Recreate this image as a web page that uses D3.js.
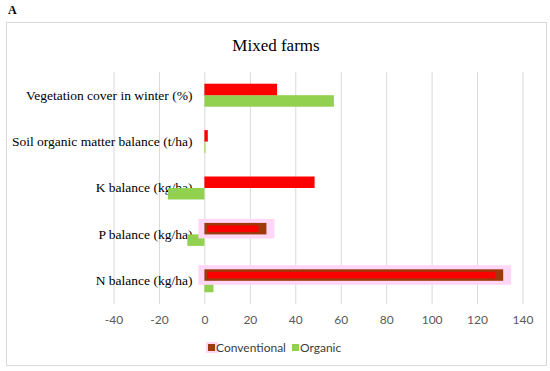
<!DOCTYPE html>
<html>
<head>
<meta charset="utf-8">
<script src="https://cdn.jsdelivr.net/npm/d3@7"></script>
<style>
body { margin: 0; background: #fff; }
.axis-x text { fill: #595959; font-family: Lato, "Liberation Sans", sans-serif; font-size: 12px; }
.axis-x .domain { display: none; }
.axis-x .tick line { stroke: #d9d9d9; }
.axis-y .domain, .axis-y .tick line { display: none; }
.axis-y text { fill: #000; font-family: "Liberation Serif", serif; font-size: 13.5px; }
</style>
</head>
<body>
<div id="plot"></div>
<script>
// categories top to bottom
var categories = ['Vegetation cover in winter (%)', 'Soil organic matter balance (t/ha)', 'K balance (kg/ha)', 'P balance (kg/ha)', 'N balance (kg/ha)'];
var conventional = [32, 1.5, 48.5, 27.3, 131.5];
var organic = [57, 0.3, -16, -7.5, 4];
var xTicks = [-40, -20, 0, 20, 40, 60, 80, 100, 120, 140];
var seriesNames = ['Conventional', 'Organic'];

// the two bars that look retouched in the original picture
var retouched = ['P balance (kg/ha)', 'N balance (kg/ha)'];

var W = 550, H = 371;
var svg = d3.select('#plot').append('svg').attr('width', W).attr('height', H);

// frame
svg.append('rect').attr('x', 6.5).attr('y', 22.5).attr('width', 540).attr('height', 343)
    .attr('fill', '#fff').attr('stroke', '#d9d9d9');

svg.append('text').attr('x', 8).attr('y', 14).text('A')
    .style('font-family', '"Liberation Serif", serif').style('font-weight', 'bold').style('font-size', '12px');

svg.append('text').attr('x', 276).attr('y', 51).attr('text-anchor', 'middle').text('Mixed farms')
    .style('font-family', '"Liberation Serif", serif').style('font-size', '17px');

var plotTop = 72, plotBottom = 304;
var x = d3.scaleLinear().domain([-40, 140]).range([113.5, 522.5]);
var y = d3.scaleBand().domain(categories).range([plotTop, plotBottom]);
var barH = 11.5;

// grid + tick labels (plain hyphen for negatives, like the original)
svg.append('g').attr('class', 'axis axis-x')
    .attr('transform', 'translate(0,' + plotBottom + ')')
    .call(d3.axisBottom(x).tickValues(xTicks).tickFormat(function(d) { return String(d); })
        .tickSizeInner(-(plotBottom - plotTop)).tickSizeOuter(0).tickPadding(11));
svg.selectAll('.axis-x .tick line').attr('y2', 0).attr('y1', -(plotBottom - plotTop));

// category labels, right aligned left of the plot
svg.append('g').attr('class', 'axis axis-y')
    .attr('transform', 'translate(' + (x(0) - 12) + ',0)')
    .call(d3.axisLeft(y).tickSize(0).tickPadding(0));

var rows = categories.map(function(c, i) { return {cat: c, conv: conventional[i], org: organic[i]}; });

var bars = svg.append('g').attr('class', 'bars');

// organic bars (lower half of each band)
bars.selectAll('.org').data(rows).enter().append('rect')
    .attr('class', 'org')
    .attr('x', function(d) { return x(Math.min(0, d.org)); })
    .attr('y', function(d) { return y(d.cat) + y.bandwidth() / 2; })
    .attr('width', function(d) { return Math.max(1, Math.abs(x(d.org) - x(0))); })
    .attr('height', barH)
    .attr('fill', '#92d050');

// conventional bars (upper half)
rows.forEach(function(d) {
    var x0 = x(Math.min(0, d.conv)), w = Math.abs(x(d.conv) - x(0));
    var y0 = y(d.cat) + y.bandwidth() / 2 - barH;
    if (retouched.indexOf(d.cat) >= 0) {
        bars.append('rect').attr('x', x0 - 6).attr('y', y0 - 4).attr('width', w + 14).attr('height', barH + 8)
            .attr('fill', '#ffd6f6');
        bars.append('rect').attr('x', x0).attr('y', y0).attr('width', w).attr('height', barH)
            .attr('fill', '#9c3a0c');
        bars.append('rect').attr('x', x0 + 3).attr('y', y0 + 2.5).attr('width', w - 11).attr('height', barH - 5)
            .attr('fill', '#ff0000');
    } else {
        bars.append('rect').attr('x', x0).attr('y', y0).attr('width', w).attr('height', barH)
            .attr('fill', '#ff0000');
    }
});

// legend
var legend = svg.append('g').attr('transform', 'translate(0,348)');
var legX = [208, 292];
var legColors = ['#9c3a0c', '#92d050'];
seriesNames.forEach(function(name, i) {
    if (i === 0) legend.append('rect').attr('x', legX[i] - 2).attr('y', -6).attr('width', 12).attr('height', 11).attr('fill', '#ffd6f6');
    legend.append('rect').attr('x', legX[i]).attr('y', -4).attr('width', 7).attr('height', 7).attr('fill', legColors[i]);
    legend.append('text').attr('x', legX[i] + 8).attr('y', 4).text(name)
        .style('font-family', 'Lato, "Liberation Sans", sans-serif').style('font-size', '12px').style('fill', '#404040');
});
</script>
</body>
</html>
